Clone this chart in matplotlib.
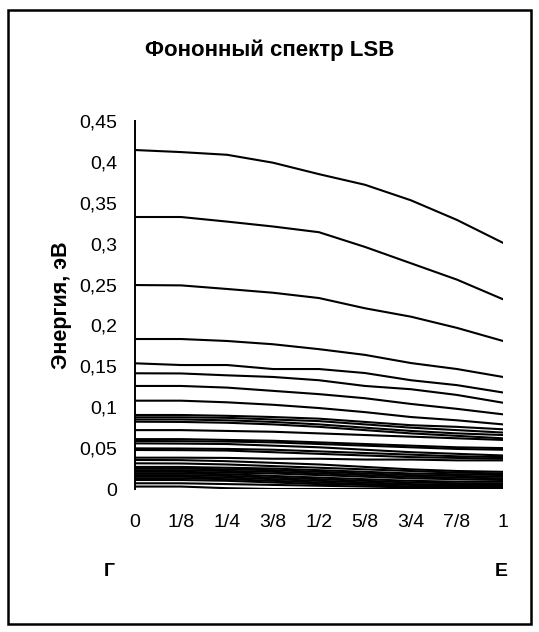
import numpy as np
import matplotlib.pyplot as plt
from matplotlib.patches import Rectangle

plt.rcParams['font.family'] = ['Liberation Sans', 'DejaVu Sans']

# wave vector points along Г-Е
q_labels = ['0', '1/8', '1/4', '3/8', '1/2', '5/8', '3/4', '7/8', '1']
q = np.arange(len(q_labels)) / 8.0

# phonon branches, eV
b01 = [0.4145, 0.412, 0.4087, 0.399, 0.385, 0.372, 0.353, 0.329, 0.301]
b02 = [0.3326, 0.3326, 0.327, 0.321, 0.314, 0.296, 0.276, 0.256, 0.232]
b03 = [0.2494, 0.249, 0.2446, 0.240, 0.2335, 0.221, 0.2107, 0.197, 0.181]
b04 = [0.1834, 0.1834, 0.181, 0.177, 0.171, 0.164, 0.154, 0.1467, 0.137]
b05 = [0.1537, 0.1516, 0.1516, 0.1467, 0.1467, 0.1418, 0.133, 0.127, 0.118]
b06 = [0.1415, 0.1413, 0.139, 0.137, 0.133, 0.126, 0.122, 0.115, 0.1055]
b07 = [0.126, 0.126, 0.124, 0.120, 0.116, 0.111, 0.104, 0.098, 0.0913]
b08 = [0.108, 0.108, 0.106, 0.103, 0.099, 0.094, 0.088, 0.084, 0.079]
b09 = [0.0905, 0.0905, 0.0895, 0.088, 0.086, 0.082, 0.078, 0.076, 0.073]
b10 = [0.0877, 0.0877, 0.087, 0.085, 0.083, 0.079, 0.075, 0.072, 0.069]
b11 = [0.085, 0.085, 0.084, 0.082, 0.079, 0.075, 0.071, 0.068, 0.066]
b12 = [0.0823, 0.082, 0.081, 0.079, 0.076, 0.072, 0.068, 0.065, 0.062]
b13 = [0.072, 0.072, 0.071, 0.070, 0.068, 0.066, 0.064, 0.062, 0.060]
b14 = [0.061, 0.061, 0.060, 0.059, 0.057, 0.055, 0.053, 0.051, 0.050]
b15 = [0.0587, 0.0585, 0.058, 0.057, 0.055, 0.053, 0.051, 0.049, 0.048]
b16 = [0.0558, 0.0555, 0.055, 0.053, 0.051, 0.048, 0.045, 0.043, 0.041]
b17 = [0.0497, 0.0495, 0.049, 0.048, 0.046, 0.044, 0.042, 0.040, 0.039]
b18 = [0.0477, 0.0475, 0.047, 0.045, 0.043, 0.041, 0.039, 0.038, 0.037]
b19 = [0.0383, 0.0383, 0.038, 0.037, 0.037, 0.036, 0.036, 0.035, 0.035]
b20 = [0.0355, 0.0353, 0.034, 0.032, 0.030, 0.027, 0.024, 0.022, 0.021]
b21 = [0.0314, 0.0312, 0.030, 0.028, 0.026, 0.024, 0.022, 0.020, 0.019]
b22 = [0.027, 0.027, 0.026, 0.025, 0.023, 0.021, 0.019, 0.018, 0.017]
b23 = [0.025, 0.025, 0.024, 0.023, 0.021, 0.019, 0.017, 0.016, 0.015]
b24 = [0.023, 0.023, 0.022, 0.021, 0.019, 0.017, 0.015, 0.014, 0.013]
b25 = [0.021, 0.021, 0.020, 0.019, 0.017, 0.015, 0.013, 0.012, 0.011]
b26 = [0.019, 0.019, 0.018, 0.016, 0.014, 0.012, 0.010, 0.009, 0.009]
b27 = [0.017, 0.017, 0.016, 0.014, 0.012, 0.010, 0.008, 0.007, 0.007]
b28 = [0.015, 0.015, 0.014, 0.012, 0.010, 0.008, 0.006, 0.005, 0.005]
b29 = [0.013, 0.013, 0.012, 0.010, 0.008, 0.006, 0.005, 0.004, 0.004]
b30 = [0.011, 0.011, 0.010, 0.008, 0.006, 0.005, 0.003, 0.003, 0.003]
b31 = [0.007, 0.007, 0.006, 0.005, 0.004, 0.003, 0.002, 0.002, 0.002]
b32 = [0.003, 0.003, 0.001, 0.0, 0.0, 0.0, 0.0, 0.001, 0.001]

branches = [b01, b02, b03, b04, b05, b06, b07, b08, b09, b10, b11, b12,
            b13, b14, b15, b16, b17, b18, b19, b20, b21, b22, b23, b24,
            b25, b26, b27, b28, b29, b30, b31, b32]

y_ticks = [0, 0.05, 0.1, 0.15, 0.2, 0.25, 0.3, 0.35, 0.4, 0.45]
y_tick_labels = ['0', '0,05', '0,1', '0,15', '0,2', '0,25', '0,3', '0,35', '0,4', '0,45']

fig = plt.figure(figsize=(5.39, 6.32), dpi=100)
fig.patch.set_facecolor('white')

# outer chart frame
fig.patches.append(Rectangle((8 / 539, 1 - 624 / 632), 523 / 539, 614 / 632,
                             transform=fig.transFigure, fill=False,
                             edgecolor='black', lw=1.8))

ax = fig.add_axes([135 / 539, 1 - 489 / 632, 368 / 539, 368 / 632])
for b in branches:
    ax.plot(q, b, color='black', lw=1.5)

ax.set_xlim(0, 1)
ax.set_ylim(0, 0.45)
ax.set_xticks(q)
ax.set_xticklabels(q_labels, fontsize=14)
ax.set_yticks(y_ticks)
ax.set_yticklabels(y_tick_labels, fontsize=14)
ax.tick_params(axis='x', length=0, pad=18)
ax.tick_params(axis='y', length=0, pad=13)
for s in ['top', 'right', 'bottom']:
    ax.spines[s].set_visible(False)
ax.spines['left'].set_linewidth(1.4)

ax.set_ylabel('Энергия, эВ', fontsize=15.5, fontweight='bold')
ax.yaxis.set_label_coords(-0.172, 0.5)
fig.text(270 / 539, 1 - 50 / 632, 'Фононный спектр LSB', fontsize=16,
         fontweight='bold', ha='center', va='center')
fig.text(109 / 539, 1 - 572 / 632, 'Г', fontsize=14, fontweight='bold',
         ha='center', va='center')
fig.text(501 / 539, 1 - 572 / 632, 'Е', fontsize=14, fontweight='bold',
         ha='center', va='center')

fig.savefig('out.png', dpi=100)
